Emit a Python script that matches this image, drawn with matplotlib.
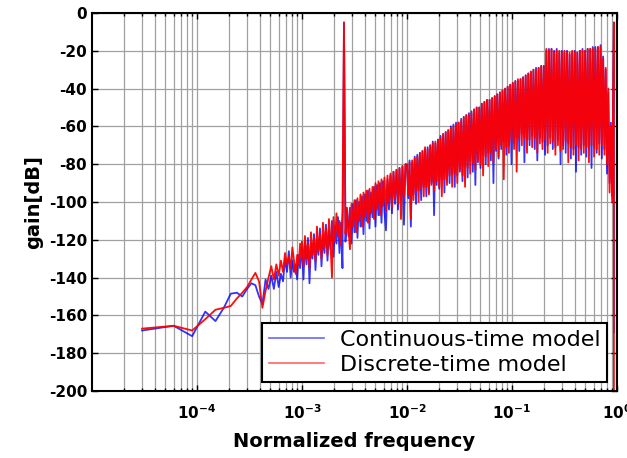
import numpy as np
import matplotlib
matplotlib.use("Agg")
from matplotlib import pyplot as plt

# ---- data (gain in dB) ----
# low band: FFT bins, df = 3e-5
bins_low = list(range(1, 34))
blue_low = [-168, -165.5, -171, -158, -163, -156, -148.5, -148, -150, -146,
            -143, -144, -150, -154, -141, -146, -139, -146, -137, -145,
            -138, -142, -130, -137, -126, -140, -131, -137, -133, -141,
            -128, -135, -126]
red_low = [-167, -165.5, -168, -162, -157, -156, -155, -151, -148, -145,
           -141, -137.5, -142, -156, -147, -140, -134, -141, -133, -139,
           -131, -137, -127, -133, -129, -135, -124, -131, -138, -128,
           -133, -122, -130]

# 1e-3 .. 1e-2
blue_mid = [-124, -141, -121, -133, -119, -143, -122, -130, -117, -136,
            -120, -128, -114, -134, -118, -127, -112, -131, -115, -125,
            -110, -129, -113, -122, -108, -127, -111, -135, -5, -121,
            -104, -118, -103, -122, -101, -116, -99, -119, -100, -113,
            -97, -117, -96, -110, -94, -114, -95, -108, -92, -113,
            -91, -107, -90, -111, -89, -105, -115, -88, -104, -86,
            -106, -84, -101, -83, -104, -82, -99, -81, -112, -80]
red_mid = [-121, -134, -118, -130, -122, -135, -116, -128, -119, -131,
           -113, -126, -117, -130, -111, -124, -114, -128, -109, -122,
           -140, -108, -121, -106, -118, -110, -123, -105, -5, -117,
           -103, -115, -125, -101, -113, -99, -116, -98, -110, -96,
           -113, -95, -108, -94, -111, -93, -106, -92, -109, -90,
           -104, -89, -107, -88, -102, -87, -105, -86, -100, -85,
           -103, -84, -98, -83, -101, -82, -109, -81, -97, -80]

# 1e-2 .. 0.9
blue_high = [-80, -98, -78, -113, -79, -96, -76, -101,
             -75, -94, -74, -99, -73, -92, -72, -97,
             -71, -95, -70, -90, -68, -107, -69, -91,
             -67, -93, -65, -88, -64, -95, -63, -89,
             -62, -90, -60, -85, -59, -92, -58, -86,
             -58, -84, -56, -89, -55, -81, -54, -87,
             -53, -78, -52, -84, -51, -91, -50, -79,
             -50, -82, -48, -75, -47, -80, -46, -74,
             -46, -78, -45, -90, -44, -73, -43, -77, -42,
             -72, -41, -68, -40, -75, -39, -70, -38,
             -80, -37, -69, -36, -66, -36, -73, -35,
             -64, -34, -79, -33, -67, -32, -70, -31,
             -65, -30, -72, -29, -78, -29, -66, -28,
             -68, -28, -75, -20, -70, -19, -66, -19,
             -72, -20, -71, -19, -67, -21, -80, -20,
             -70, -21, -74, -20, -69, -22, -77, -21,
             -72, -20, -84, -21, -71, -20, -75, -19,
             -70, -20, -76, -19, -72, -19, -82, -18,
             -71, -18, -74, -18, -69, -17, -77, -23,
             -72, -30, -85, -42, -90, -58, -97]
red_high = [-81, -96, -79, -109, -78, -99, -77, -94,
            -76, -100, -74, -93, -73, -97, -71, -92,
            -72, -96, -70, -91, -69, -94, -68, -89,
            -67, -92, -66, -97, -64, -88, -63, -91,
            -62, -86, -61, -92, -60, -85, -59, -90,
            -58, -83, -57, -86, -55, -92, -54, -82,
            -54, -85, -53, -79, -51, -83, -50, -78,
            -50, -80, -48, -86, -47, -76, -46, -81,
            -46, -74, -45, -79, -44, -72, -43, -76, -42,
            -70, -41, -88, -40, -71, -39, -74, -38,
            -68, -37, -72, -36, -84, -35, -67, -35,
            -70, -34, -66, -33, -74, -32, -67, -31,
            -71, -30, -66, -30, -74, -29, -69, -28,
            -72, -28, -67, -19, -74, -20, -69, -19,
            -68, -21, -75, -20, -70, -20, -73, -21,
            -72, -20, -68, -21, -79, -21, -71, -20,
            -75, -21, -70, -21, -78, -20, -72, -20,
            -74, -20, -71, -19, -79, -19, -70, -19,
            -76, -19, -72, -18, -75, -18, -70, -24,
            -75, -29, -80, -40, -95, -60, -100]

# spike just below Nyquist
f_edge = [0.935, 0.935]
blue_edge = [-5, -169]
red_edge = [-5, -205]

labels = ["Continuous-time model", "Discrete-time model"]
xtick_vals = [1e-4, 1e-3, 1e-2, 1e-1, 1]
xtick_labels = ["$\\mathregular{10^{-4}}$", "$\\mathregular{10^{-3}}$",
                "$\\mathregular{10^{-2}}$", "$\\mathregular{10^{-1}}$",
                "$\\mathregular{10^{0}}$"]

##########################################

f = np.concatenate([np.array(bins_low) * 3e-5,
                    np.geomspace(1e-3, 1e-2, len(blue_mid), endpoint=False),
                    np.geomspace(1e-2, 0.9, len(blue_high)),
                    f_edge])
blue = np.concatenate([blue_low, blue_mid, blue_high, blue_edge])
red = np.concatenate([red_low, red_mid, red_high, red_edge])

plt.rcParams['axes.unicode_minus'] = False
plt.rcParams['font.family'] = 'DejaVu Sans'

fig = plt.figure(figsize=(6.27, 4.58), dpi=100)
ax = fig.add_axes([0.1467, 0.1463, 0.8373, 0.8253])

ax.plot(f, blue, color='#0000ff', lw=1.3, alpha=0.8, label=labels[0])
ax.plot(f, red, color='#ff0000', lw=1.3, alpha=0.95, label=labels[1])

ax.set_xscale('log')
ax.set_xlim(1e-5, 1)
ax.set_ylim(-200, 0)
ax.set_xticks(xtick_vals)
ax.set_xticklabels(xtick_labels)
ax.set_yticks(np.arange(-200, 1, 20))

ax.grid(True, which='both', axis='x', color='#a0a0a0', lw=0.9)
ax.grid(True, which='major', axis='y', color='#a0a0a0', lw=0.9)
ax.set_axisbelow(True)

ax.tick_params(which='both', direction='in', top=True, right=True)
ax.tick_params(which='major', length=4, width=1)
ax.tick_params(which='minor', length=2.5, width=1)
ax.tick_params(axis='x', which='major', pad=9)
for lab in ax.get_xticklabels() + ax.get_yticklabels():
    lab.set_fontweight('bold')
    lab.set_fontsize(11)
for s in ax.spines.values():
    s.set_linewidth(1.5)

ax.set_xlabel("Normalized frequency", fontsize=14, fontweight='bold', labelpad=7)
ax.set_ylabel("gain[dB]", fontsize=14, fontweight='bold', labelpad=4)

leg = ax.legend(loc='lower right', bbox_to_anchor=(0.981, 0.024), borderaxespad=0,
                fontsize=16, fancybox=False, framealpha=1, edgecolor='black',
                handlelength=2.5, labelspacing=0.25, borderpad=0.3, handletextpad=0.7)
leg.get_frame().set_linewidth(1.5)
for h in leg.get_lines():
    h.set_linewidth(1.2)
    h.set_alpha(0.6)

fig.savefig("out.png", dpi=100)
